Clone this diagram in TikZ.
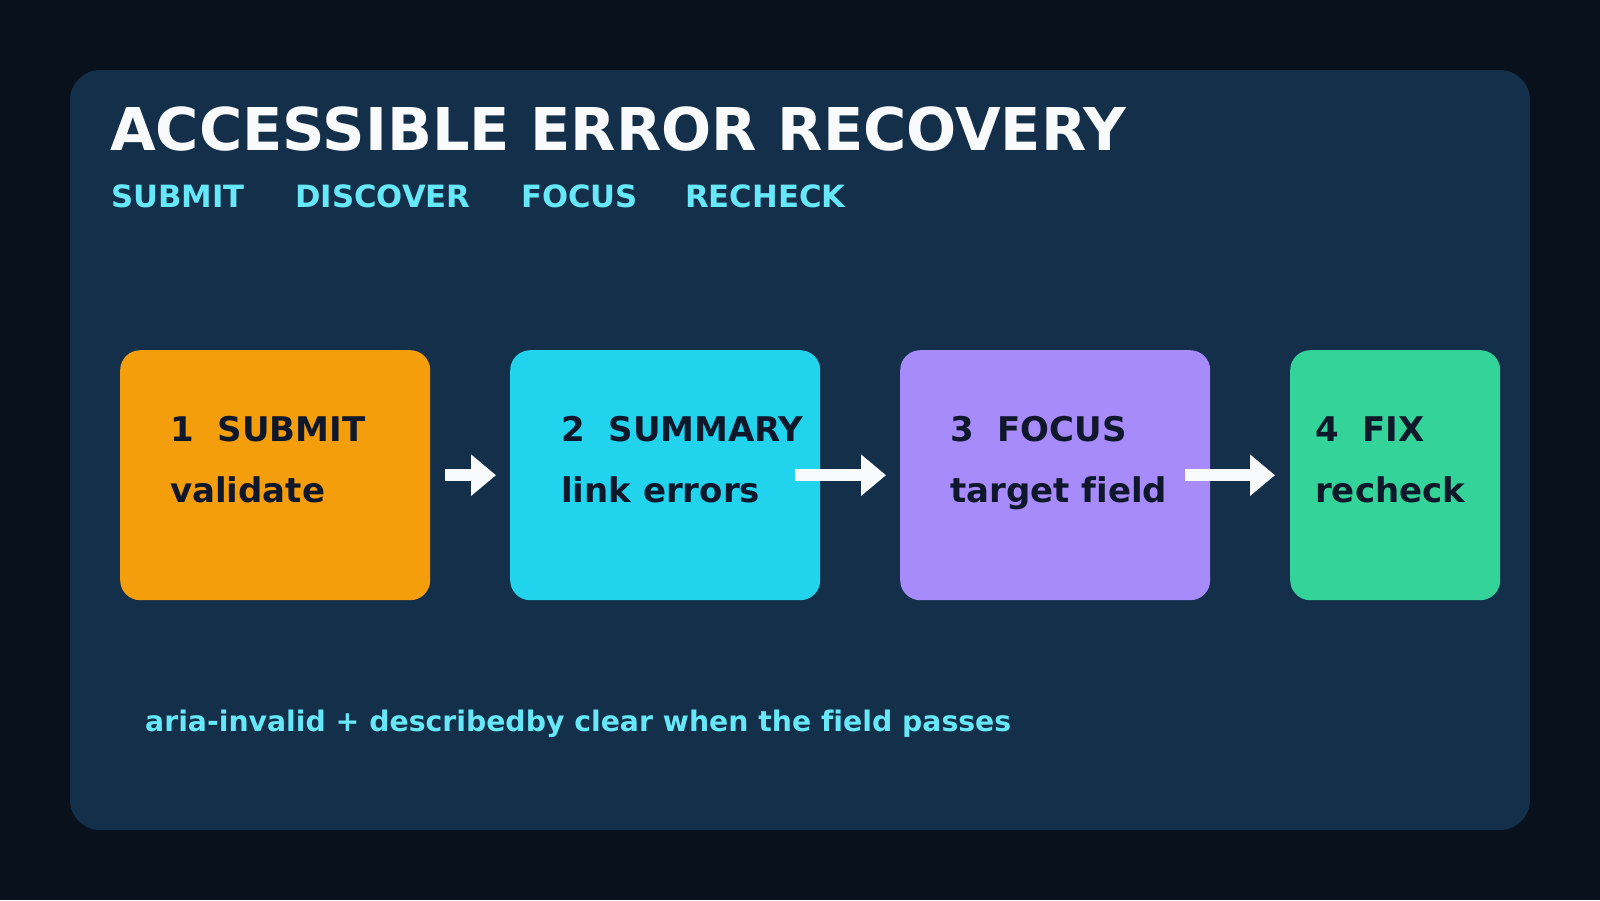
\documentclass[tikz,border=0pt]{standalone}
\usepackage{fontspec}
\setmainfont[Ligatures={NoCommon}]{DejaVu Sans}
\usetikzlibrary{positioning}
\usetikzlibrary{arrows.meta}
\definecolor{bgdark}{HTML}{08111C}
\definecolor{panelblue}{HTML}{132F4A}
\definecolor{stepo}{HTML}{F59E0B}
\definecolor{stepc}{HTML}{22D3EE}
\definecolor{stepp}{HTML}{A78BFA}
\definecolor{stepg}{HTML}{34D399}
\definecolor{ink}{HTML}{0F172A}
\definecolor{accent}{HTML}{67E8F9}
\definecolor{snow}{HTML}{F8FAFC}
\tikzset{
    mybox/.style = {rectangle, rounded corners=20pt, draw=none, minimum width=310pt, minimum height=250pt, anchor=north west, inner sep=0pt},
    myboxo/.style = {mybox, fill=stepo},
    myboxc/.style = {mybox, fill=stepc},
    myboxp/.style = {mybox, fill=stepp},
    myboxg/.style = {mybox, fill=stepg, minimum width=210pt},
    mytitle/.style = {anchor=base west, inner sep=0pt, font=\fontsize{59}{62}\selectfont\bfseries, text=snow},
    mysub/.style = {anchor=base west, inner sep=0pt, font=\fontsize{30.7}{33}\selectfont\bfseries, text=accent},
    mystep/.style = {anchor=base west, inner sep=0pt, font=\fontsize{34}{36}\selectfont\bfseries, text=ink},
    mynote/.style = {anchor=base west, inner sep=0pt, font=\fontsize{28.3}{30}\selectfont\bfseries, text=accent},
    edgew/.style = {line width=12pt, snow, -{Triangle[length=25pt, width=40pt]}}
}

\begin{document}
\begin{tikzpicture}[x=1pt, y=-1pt]
\fill[bgdark] (0,0) rectangle (1600,900);
\fill[panelblue, rounded corners=30pt] (70,70) rectangle (1530,830);
%
\node[mytitle] at (110,150) (title) {ACCESSIBLE ERROR RECOVERY};
\node[mysub] at (111,207) (t1) {SUBMIT};
\node[mysub] at (295,207) (t2) {DISCOVER};
\node[mysub] at (521,207) (t3) {FOCUS};
\node[mysub] at (685,207) (t4) {RECHECK};
%
\node[myboxo] at (120,350) (s1) {};
\node[myboxc] at (510,350) (s2) {};
\node[myboxp] at (900,350) (s3) {};
\node[myboxg] at (1290,350) (s4) {};
%
\node[mystep] at (170,441) (h1) {1\ \ SUBMIT};
\node[mystep] at (170,502) (l1) {validate};
\node[mystep] at (561,441) (h2) {2\ \ SUMMARY};
\node[mystep] at (561,502) (l2) {link errors};
\node[mystep] at (950,441) (h3) {3\ \ FOCUS};
\node[mystep] at (950,502) (l3) {target field};
\node[mystep] at (1315,441) (h4) {4\ \ FIX};
\node[mystep] at (1315,502) (l4) {recheck};
%
\coordinate (a1s) at ([xshift=15pt]s1.east);
\coordinate (a1e) at ([xshift=-14pt]s2.west);
\coordinate (a2s) at ([xshift=-25pt]s2.east);
\coordinate (a2e) at ([xshift=-14pt]s3.west);
\coordinate (a3s) at ([xshift=-25pt]s3.east);
\coordinate (a3e) at ([xshift=-15pt]s4.west);
\draw[edgew] (a1s) -- (a1e);
\draw[edgew] (a2s) -- (a2e);
\draw[edgew] (a3s) -- (a3e);
%
\node[mynote] at (145,731) (note) {aria-invalid + describedby clear when the field passes};

\path[use as bounding box] (0,0) rectangle (1600,900);
\end{tikzpicture}
\end{document}
